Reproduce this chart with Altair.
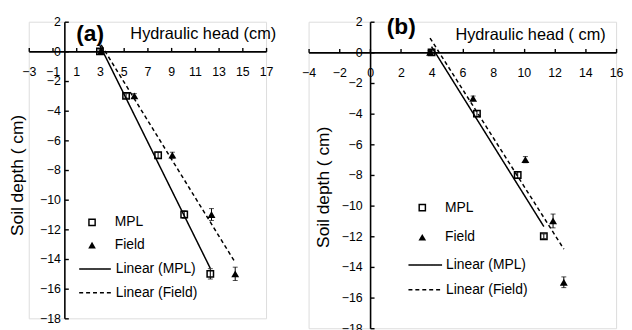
import altair as alt
import pandas as pd

FONT = "Liberation Sans"

# ---- Panel (a) data ----
a_mpl_depth = [0, -3, -7, -11, -15]
a_mpl_head = [3.0, 5.2, 7.9, 10.1, 12.3]
a_mpl_err = [0.1, 0.15, 0.2, 0.25, 0.35]
a_field_depth = [0, -3, -7, -11, -15]
a_field_head = [3.1, 5.9, 9.1, 12.4, 14.4]
a_field_err = [0.1, 0.15, 0.2, 0.4, 0.45]

# ---- Panel (b) data ----
b_mpl_depth = [0, -4, -8, -12]
b_mpl_head = [4.0, 6.95, 9.6, 11.3]
b_mpl_err = [0.1, 0.2, 0.2, 0.15]
b_field_depth = [0, -3, -7, -11, -15]
b_field_head = [3.9, 6.7, 10.1, 11.9, 12.6]
b_field_err = [0.1, 0.15, 0.2, 0.45, 0.35]

a_x_ticks = [-3, -1, 1, 3, 5, 7, 9, 11, 13, 15, 17]
b_x_ticks = [-4, -2, 0, 2, 4, 6, 8, 10, 12, 14, 16]
y_ticks = [2, 0, -2, -4, -6, -8, -10, -12, -14, -16, -18]
series_names = ["MPL", "Field"]
trend_names = ["Linear (MPL)", "Linear (Field)"]

# hollow square drawn as a filled ring, so every symbol can be filled black
SQUARE_RING = "M-1,-1H1V1H-1Z M-0.62,-0.62V0.62H0.62V-0.62Z"


def make_df(mh, md, me, fh, fd, fe):
    rows = []
    for h, d, e in zip(mh, md, me):
        rows.append({"series": "MPL", "head": h, "depth": d, "err": e})
    for h, d, e in zip(fh, fd, fe):
        rows.append({"series": "Field", "head": h, "depth": d, "err": e})
    return pd.DataFrame(rows)


def panel(df, xdom, xticks, w, h, tag, xtitle, cfg):
    xs = w / (xdom[1] - xdom[0])
    ys = h / 20.0
    x_axis_off = -(2 * ys)
    y_axis_off = (0 - xdom[0]) * xs - w

    xaxis = alt.Axis(
        orient="top", offset=x_axis_off, values=xticks, title=xtitle,
        grid=False, domainColor="black", domainWidth=1.6, tickColor="black",
        tickWidth=1.4, tickSize=4, labelFont=FONT, labelFontSize=12.5,
        labelColor="black", labelBaseline="middle", labelPadding=-24,
        labelOverlap=False, labelFlush=False, titleFont=FONT,
        titleFontSize=16.5, titleFontWeight="normal", titleColor="black",
        titleX=cfg["xtx"], titleY=cfg["xty"], titleAlign="center",
        titleBaseline="middle", format="d",
    )
    yaxis = alt.Axis(
        orient="right", offset=y_axis_off, values=y_ticks,
        title="Soil depth ( cm)", grid=False, domainColor="black",
        domainWidth=1.6, tickColor="black", tickWidth=1.4, tickSize=4,
        labelFont=FONT, labelFontSize=12.5, labelColor="black",
        labelAlign="right", labelBaseline="middle",
        labelPadding=cfg["ylp"], labelOverlap=False, labelFlush=False,
        titleFont=FONT, titleFontSize=17.5, titleFontWeight="normal",
        titleColor="black", titleAngle=270, titleX=cfg["ytx"],
        titleY=cfg["yty"], titleAlign="center", titleBaseline="middle",
        format="d",
    )
    xsc = alt.Scale(domain=xdom, nice=False, zero=False)
    ysc = alt.Scale(domain=[-18, 2], nice=False, zero=False)
    X = alt.X("head:Q", scale=xsc, axis=xaxis)

    base = alt.Chart(df)

    # regression trend lines
    line_legend = alt.Legend(
        title=None, orient="none", legendX=cfg["llx"], legendY=cfg["lly"],
        symbolType="stroke", symbolSize=cfg["lsize"], symbolStrokeWidth=1.5,
        symbolStrokeColor="black", labelFont=FONT, labelFontSize=14,
        labelColor="black", labelOffset=cfg["llo"], rowPadding=cfg["lrp"],
        padding=0,
    )
    lines = base.transform_regression(
        "head", "depth", groupby=["series"]
    ).transform_calculate(
        trend='"Linear (" + datum.series + ")"'
    ).mark_line(color="black", strokeWidth=1.5).encode(
        x=X,
        y=alt.Y("depth:Q", scale=ysc, axis=yaxis),
        strokeDash=alt.StrokeDash(
            "trend:N",
            scale=alt.Scale(domain=trend_names, range=[[1, 0], [4, 3]]),
            legend=line_legend,
        ),
    )

    # error bars
    err_rule = base.transform_calculate(
        lo="datum.depth - datum.err", hi="datum.depth + datum.err"
    ).mark_rule(color="black", strokeWidth=1).encode(
        x=X, y=alt.Y("lo:Q", scale=ysc, axis=yaxis), y2="hi:Q"
    )
    err_caps = base.transform_calculate(
        lo="datum.depth - datum.err", hi="datum.depth + datum.err"
    ).transform_fold(["lo", "hi"], as_=["end", "cap"]).mark_tick(
        color="black", orient="horizontal", size=5, thickness=1
    ).encode(x=X, y=alt.Y("cap:Q", scale=ysc, axis=yaxis))

    pt_legend = alt.Legend(
        title=None, orient="none", legendX=cfg["plx"], legendY=cfg["ply"],
        symbolSize=60, symbolFillColor="black", symbolStrokeWidth=0,
        labelFont=FONT, labelFontSize=14, labelColor="black",
        labelOffset=cfg["plo"], rowPadding=cfg["prp"], padding=0,
    )
    points = base.mark_point(
        filled=True, color="black", strokeWidth=0, size=64, opacity=1
    ).encode(
        x=X,
        y=alt.Y("depth:Q", scale=ysc, axis=yaxis),
        shape=alt.Shape(
            "series:N",
            scale=alt.Scale(domain=series_names,
                            range=[SQUARE_RING, "triangle-up"]),
            legend=pt_legend,
        ),
    )

    return alt.layer(lines, err_rule, err_caps, points).properties(
        width=w, height=h,
        title=alt.TitleParams(
            text=tag, anchor="start", frame="group", dx=cfg["tdx"],
            offset=cfg["toff"], baseline="middle", fontSize=23,
            fontWeight="bold", font=FONT, color="black",
        ),
    )


df_a = make_df(a_mpl_head, a_mpl_depth, a_mpl_err,
               a_field_head, a_field_depth, a_field_err)
df_b = make_df(b_mpl_head, b_mpl_depth, b_mpl_err,
               b_field_head, b_field_depth, b_field_err)

cfg_a = dict(xtx=176, xty=-18, ylp=-8, ytx=-47, yty=155,
             llx=50, lly=233, lsize=1024, llo=4, lrp=-10,
             plx=57, ply=196, plo=16, prp=9, tdx=48, toff=-42)
cfg_b = dict(xtx=224, xty=-18, ylp=-12, ytx=-47, yty=167,
             llx=100, lly=228, lsize=1156, llo=3, lrp=-3,
             plx=108, ply=181, plo=16, prp=16, tdx=79, toff=-34)

pa = panel(df_a, [-3, 17], a_x_ticks, 240, 300, "(a)", "Hydraulic head (cm)", cfg_a)
pb = panel(df_b, [-4, 16], b_x_ticks, 311, 310, "(b)", "Hydraulic head ( cm)", cfg_b)

chart = alt.hconcat(pa, pb, spacing=24).resolve_scale(
    x="independent", y="independent", shape="independent",
    strokeDash="independent",
).resolve_legend(
    shape="independent", strokeDash="independent"
).properties(
    padding={"left": 0, "top": 5, "right": 0, "bottom": 0}
).configure_view(stroke=None).configure(background="white")

chart.save("out.html", embed_options={"renderer": "svg", "actions": False})
